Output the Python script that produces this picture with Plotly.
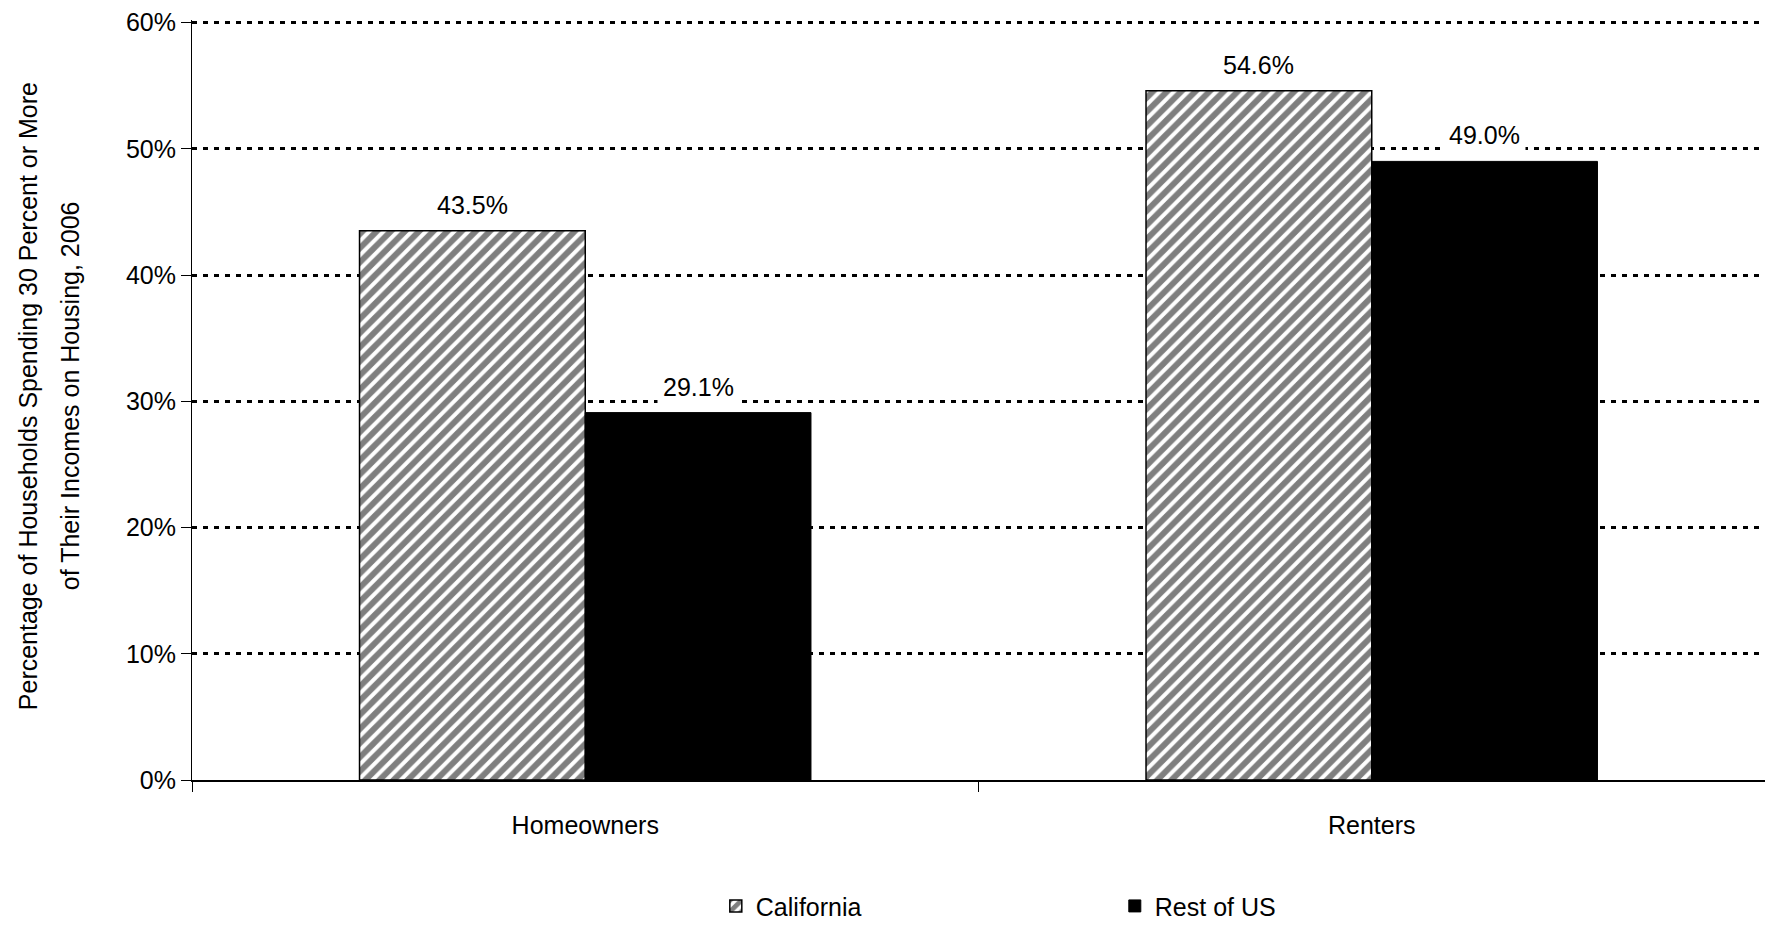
import plotly.graph_objects as go

# data
categories = ["Homeowners", "Renters"]
california = [43.5, 54.6]
rest_of_us = [29.1, 49.0]
y_ticks = [0, 10, 20, 30, 40, 50, 60]
y_ticktext = [f"{v}%" for v in y_ticks]

FONT = "Liberation Sans, Arial, sans-serif"
FS = 25
BLACK = "#000000"
BARGAP = 0.426
# page body keeps its default 8px margin, so the figure is 16px smaller
W, H = 1773 - 16, 930 - 16
ML, MT, MB = 184, 12, 142
PLOT_W = W - ML

fig = go.Figure()
fig.add_trace(go.Bar(
    name="California", x=categories, y=california,
    marker=dict(color="white", line=dict(color=BLACK, width=1.5),
                pattern=dict(shape="/", fgcolor=BLACK, bgcolor="white",
                             size=10, solidity=0.6, fillmode="overlay")),
))
fig.add_trace(go.Bar(
    name="Rest of US", x=categories, y=rest_of_us,
    marker=dict(color=BLACK, line=dict(color=BLACK, width=1)),
))

# value labels with white box, so the dotted grid breaks behind them
shift = PLOT_W / len(categories) * (1 - BARGAP) / 4
for series, sgn in ((california, -1), (rest_of_us, 1)):
    for cat, v in zip(categories, series):
        fig.add_annotation(
            x=cat, y=v, xref="x", yref="y", text=f"{v:.1f}%",
            showarrow=False, yanchor="bottom", xshift=sgn * shift, yshift=6,
            bgcolor="white", borderpad=5,
            font=dict(size=FS, color=BLACK, family=FONT),
        )

# y-axis title, two lines
for txt, dx in (("Percentage of Households Spending 30 Percent or More", -164),
                ("of Their Incomes on Housing, 2006", -122)):
    fig.add_annotation(
        x=0, y=0.505, xref="paper", yref="paper", text=txt, textangle=-90,
        showarrow=False, xanchor="center", yanchor="middle", xshift=dx,
        font=dict(size=FS, color=BLACK, family=FONT),
    )

fig.update_layout(
    width=W, height=H,
    barmode="group", bargap=BARGAP, bargroupgap=0,
    plot_bgcolor="white", paper_bgcolor="white",
    font=dict(family=FONT, size=FS, color=BLACK),
    margin=dict(l=ML, r=0, t=MT, b=MB, autoexpand=False),
    showlegend=True,
    legend=dict(
        orientation="h", x=0.333, y=-0.166, xanchor="left", yanchor="middle",
        entrywidth=354, entrywidthmode="pixels",
        font=dict(size=FS, color=BLACK, family=FONT),
        bgcolor="rgba(0,0,0,0)",
    ),
)
fig.update_xaxes(
    showline=True, linecolor=BLACK, linewidth=1.5,
    ticks="outside", tickson="boundaries", ticklen=10, tickcolor=BLACK,
    ticklabelstandoff=22, showgrid=False, tickfont=dict(size=FS),
)
fig.update_yaxes(
    range=[0, 60.2], tickvals=y_ticks, ticktext=y_ticktext,
    showline=True, linecolor=BLACK, linewidth=1,
    ticks="outside", ticklen=10, tickcolor=BLACK, ticklabeloverflow="allow",
    showgrid=True, gridcolor=BLACK, gridwidth=2.5, griddash="5px,6px",
    zeroline=False, tickfont=dict(size=FS),
)

fig.write_html("out.html")
